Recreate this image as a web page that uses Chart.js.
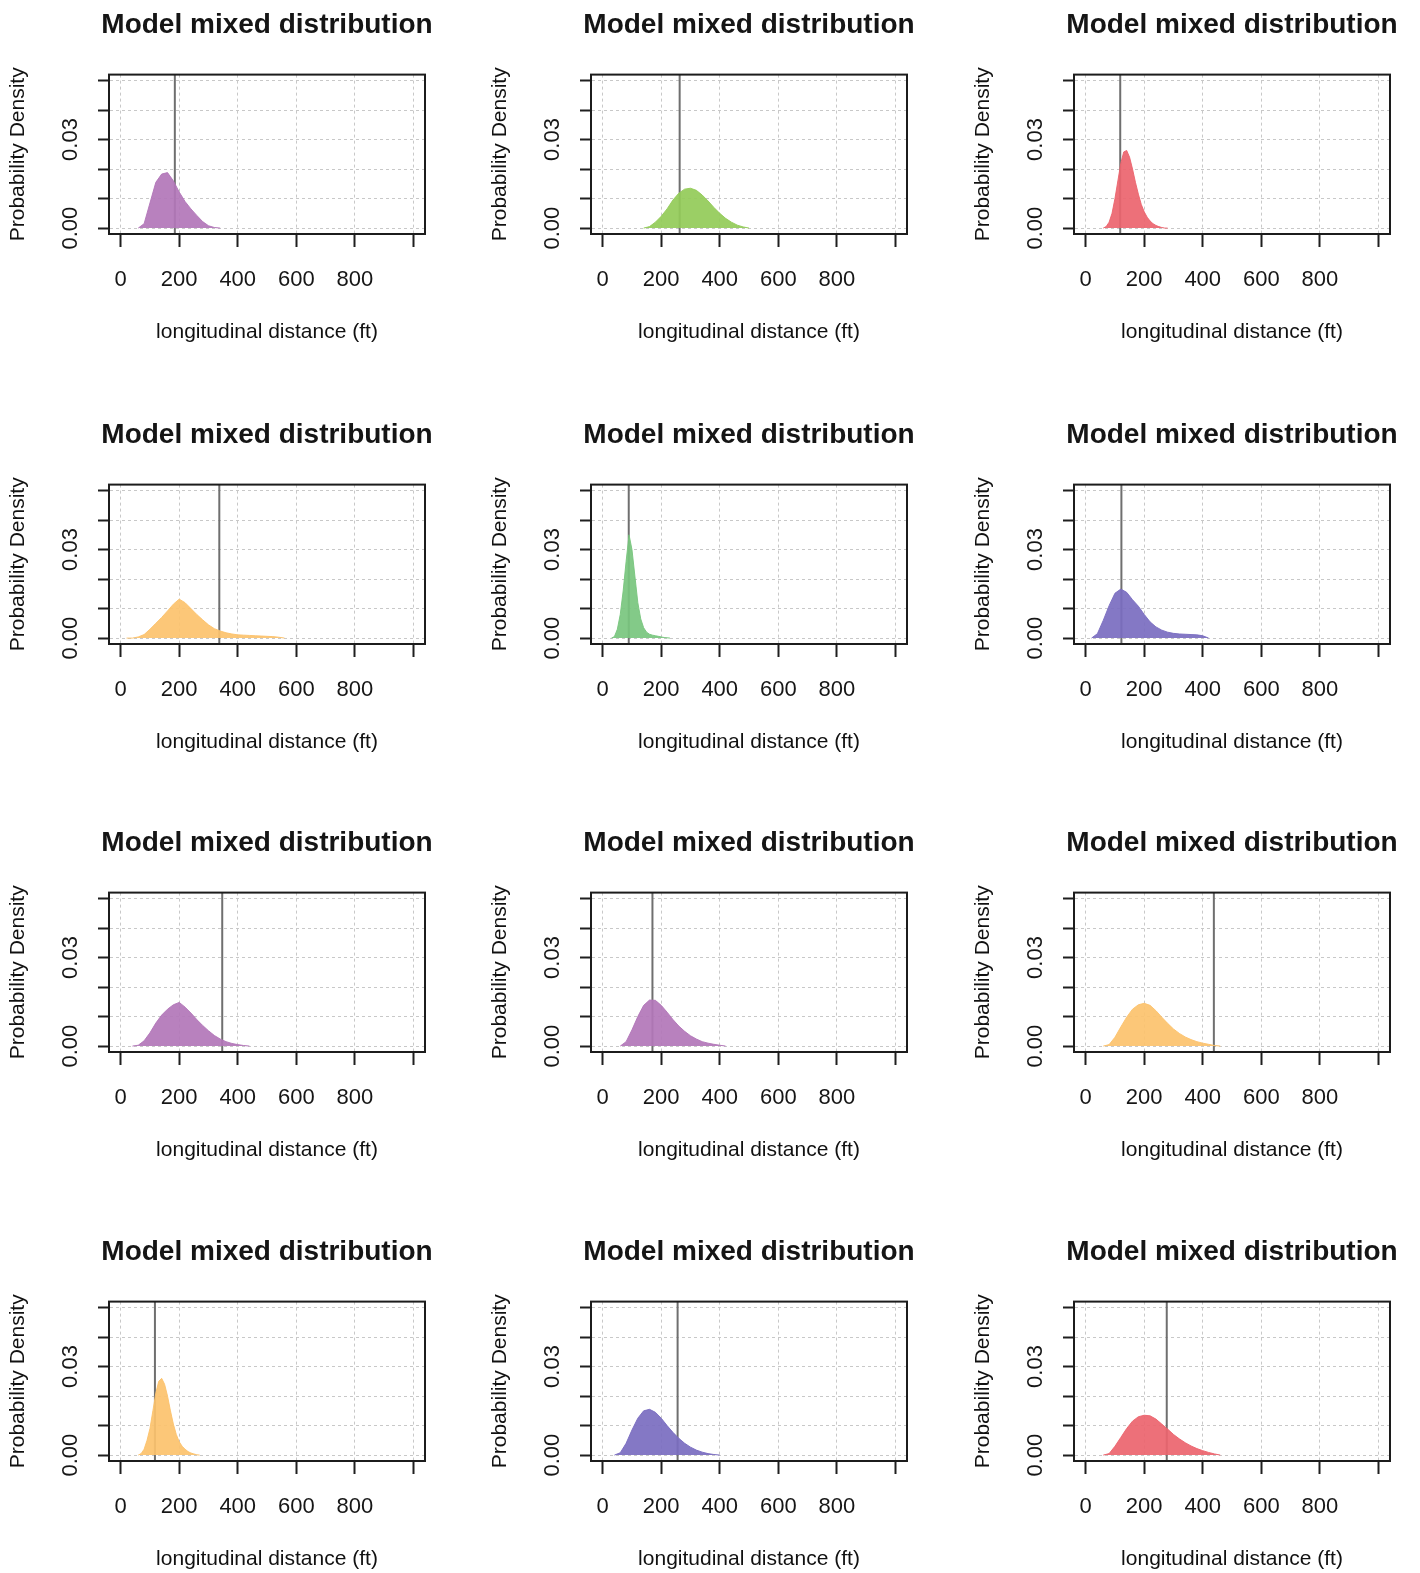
<!DOCTYPE html>
<html>
<head>
<meta charset="utf-8">
<title>Model mixed distribution</title>
<script src="https://cdn.jsdelivr.net/npm/chart.js@4.4.1/dist/chart.umd.min.js"></script>
<style>
  html, body { margin: 0; padding: 0; background: #ffffff; width: 1420px; height: 1573px; overflow: hidden; }
  canvas.panel { position: absolute; }
</style>
</head>
<body>
<script>
// Axis ticks and their printed labels
const xTicks = [0, 200, 400, 600, 800, 1000];
const xTickLabels = ['0', '200', '400', '600', '800', ''];
const yTicks = [0, 0.01, 0.02, 0.03, 0.04, 0.05];
const yTickLabels = ['0.00', '', '', '0.03', '', ''];

// Fill colour of each panel's density, row by row
const panelColors = [
  'rgba(178,118,184,0.92)', 'rgba(146,203,88,0.92)', 'rgba(236,100,110,0.92)',
  'rgba(252,194,108,0.92)', 'rgba(120,198,126,0.92)', 'rgba(122,108,192,0.92)',
  'rgba(178,118,184,0.92)', 'rgba(178,118,184,0.92)', 'rgba(252,194,108,0.92)',
  'rgba(252,194,108,0.92)', 'rgba(122,108,192,0.92)', 'rgba(236,100,110,0.92)'
];

// Vertical reference line of each panel (ft)
const markerFt = [185, 263, 118, 337, 89, 122, 347, 170, 438, 117, 256, 277];

// Density curves: longitudinal distance (ft) and probability density
const dist1 = [60, 80, 100, 120, 140, 160, 180, 200, 220, 240, 260, 280, 300, 320, 340];
const dens1 = [0, 0.0015, 0.0085, 0.0155, 0.0183, 0.0188, 0.0160, 0.0122, 0.0090, 0.0065, 0.0043, 0.0022, 0.0008, 0.0002, 0];

const dist2 = [140, 160, 180, 200, 220, 240, 260, 280, 300, 320, 340, 360, 380, 400, 420, 440, 460, 480, 500];
const dens2 = [0, 0.0005, 0.0020, 0.0040, 0.0065, 0.0095, 0.0118, 0.0132, 0.0135, 0.0128, 0.0112, 0.0092, 0.0070, 0.0050, 0.0033, 0.0020, 0.0010, 0.0004, 0];

const dist3 = [60, 70, 80, 90, 100, 110, 120, 130, 140, 150, 160, 170, 180, 190, 200, 210, 220, 230, 240, 250, 260, 270, 280];
const dens3 = [0, 0.0005, 0.0020, 0.0050, 0.0100, 0.0160, 0.0220, 0.0258, 0.0263, 0.0240, 0.0200, 0.0155, 0.0115, 0.0080, 0.0055, 0.0037, 0.0024, 0.0015, 0.0009, 0.0005, 0.0002, 0, 0];

const dist4 = [20, 40, 60, 80, 100, 120, 140, 160, 180, 200, 220, 240, 260, 280, 300, 320, 340, 360, 380, 400, 420, 440, 460, 480, 500, 520, 540, 560];
const dens4 = [0, 0, 0.0004, 0.0012, 0.0030, 0.0050, 0.0070, 0.0092, 0.0115, 0.0132, 0.0120, 0.0100, 0.0080, 0.0062, 0.0045, 0.0032, 0.0024, 0.0018, 0.0014, 0.0011, 0.0010, 0.0009, 0.0008, 0.0007, 0.0006, 0.0005, 0.0003, 0];

const dist5 = [30, 40, 50, 60, 70, 80, 90, 100, 110, 120, 130, 140, 150, 160, 170, 180, 190, 200, 210, 220, 230];
const dens5 = [0, 0.0005, 0.0030, 0.0080, 0.0160, 0.0260, 0.0350, 0.0300, 0.0210, 0.0120, 0.0065, 0.0035, 0.0020, 0.0013, 0.0010, 0.0008, 0.0006, 0.0004, 0.0002, 0.0001, 0];

const dist6 = [20, 40, 60, 80, 100, 120, 140, 160, 180, 200, 220, 240, 260, 280, 300, 320, 340, 360, 380, 400, 420];
const dens6 = [0, 0.0015, 0.0060, 0.0110, 0.0152, 0.0166, 0.0155, 0.0130, 0.0108, 0.0080, 0.0055, 0.0038, 0.0027, 0.0020, 0.0016, 0.0014, 0.0013, 0.0012, 0.0011, 0.0008, 0];

const dist7 = [40, 60, 80, 100, 120, 140, 160, 180, 200, 220, 240, 260, 280, 300, 320, 340, 360, 380, 400, 420, 440];
const dens7 = [0, 0.0003, 0.0018, 0.0045, 0.0078, 0.0105, 0.0125, 0.0140, 0.0148, 0.0132, 0.0112, 0.0090, 0.0070, 0.0052, 0.0036, 0.0024, 0.0015, 0.0009, 0.0005, 0.0002, 0];

const dist8 = [60, 80, 100, 120, 140, 160, 180, 200, 220, 240, 260, 280, 300, 320, 340, 360, 380, 400, 420];
const dens8 = [0, 0.0015, 0.0055, 0.0100, 0.0138, 0.0156, 0.0155, 0.0138, 0.0115, 0.0090, 0.0068, 0.0050, 0.0035, 0.0024, 0.0015, 0.0010, 0.0006, 0.0003, 0];

const dist9 = [60, 80, 100, 120, 140, 160, 180, 200, 220, 240, 260, 280, 300, 320, 340, 360, 380, 400, 420, 440, 460];
const dens9 = [0, 0.0005, 0.0030, 0.0065, 0.0098, 0.0125, 0.0140, 0.0145, 0.0138, 0.0120, 0.0098, 0.0077, 0.0058, 0.0043, 0.0031, 0.0022, 0.0015, 0.0010, 0.0006, 0.0002, 0];

const dist10 = [60, 70, 80, 90, 100, 110, 120, 130, 140, 150, 160, 170, 180, 190, 200, 210, 220, 230, 240, 250, 260, 270];
const dens10 = [0, 0.0005, 0.0020, 0.0050, 0.0090, 0.0150, 0.0210, 0.0250, 0.0260, 0.0240, 0.0200, 0.0150, 0.0105, 0.0070, 0.0045, 0.0030, 0.0020, 0.0012, 0.0007, 0.0004, 0.0001, 0];

const dist11 = [40, 60, 80, 100, 120, 140, 160, 180, 200, 220, 240, 260, 280, 300, 320, 340, 360, 380, 400];
const dens11 = [0, 0.0008, 0.0040, 0.0085, 0.0125, 0.0150, 0.0155, 0.0145, 0.0125, 0.0100, 0.0077, 0.0057, 0.0040, 0.0027, 0.0017, 0.0010, 0.0005, 0.0002, 0];

const dist12 = [60, 80, 100, 120, 140, 160, 180, 200, 220, 240, 260, 280, 300, 320, 340, 360, 380, 400, 420, 440, 460];
const dens12 = [0, 0.0005, 0.0030, 0.0060, 0.0090, 0.0115, 0.0130, 0.0135, 0.0133, 0.0122, 0.0105, 0.0088, 0.0070, 0.0055, 0.0042, 0.0031, 0.0022, 0.0015, 0.0009, 0.0004, 0];

const panelDist = [dist1, dist2, dist3, dist4, dist5, dist6, dist7, dist8, dist9, dist10, dist11, dist12];
const panelDens = [dens1, dens2, dens3, dens4, dens5, dens6, dens7, dens8, dens9, dens10, dens11, dens12];

// Page layout of the 4 x 3 grid of panels
const colLeft = [0, 482, 965];
const rowTop = [0, 410, 818, 1227];
const CANVAS_W = 534, CANVAS_H = 350;
const FONT = "'Liberation Sans', Arial, Helvetica, sans-serif";

// Box around the plotting region, drawn over the data like a base-graphics box()
const framePlugin = {
  id: 'frame',
  afterDatasetsDraw(chart) {
    const { ctx, chartArea: a } = chart;
    ctx.save();
    ctx.strokeStyle = '#1c1c1c';
    ctx.lineWidth = 2;
    ctx.strokeRect(a.left, a.top, a.right - a.left, a.bottom - a.top);
    ctx.restore();
  }
};

const gridColor = '#c8c8c8';
const inkColor = '#1f1f1f';
const labelColor = '#161616';

function makePanel(i) {
  const col = i % 3, row = Math.floor(i / 3);
  const canvas = document.createElement('canvas');
  canvas.className = 'panel';
  canvas.width = CANVAS_W;
  canvas.height = CANVAS_H;
  canvas.style.left = colLeft[col] + 'px';
  canvas.style.top = rowTop[row] + 'px';
  document.body.appendChild(canvas);

  const dist = panelDist[i], dens = panelDens[i];
  const m = markerFt[i];

  new Chart(canvas, {
    type: 'line',
    data: {
      datasets: [
        {
          data: dist.map((x, k) => ({ x: x, y: dens[k] })),
          backgroundColor: panelColors[i],
          borderColor: panelColors[i],
          borderWidth: 1,
          pointRadius: 0,
          fill: 'origin',
          tension: 0
        },
        {
          data: [{ x: m, y: -0.002 }, { x: m, y: 0.052 }],
          borderColor: '#6f6f6f',
          borderWidth: 2,
          pointRadius: 0,
          fill: false
        }
      ]
    },
    options: {
      responsive: false,
      animation: false,
      devicePixelRatio: 1,
      events: [],
      layout: { padding: 0 },
      plugins: {
        legend: { display: false },
        tooltip: { enabled: false },
        title: {
          display: true,
          text: 'Model mixed distribution',
          color: '#151515',
          font: { family: FONT, size: 28, weight: 'bold' },
          padding: { top: 8, bottom: 33 }
        }
      },
      scales: {
        x: {
          type: 'linear',
          min: -40,
          max: 1040,
          afterBuildTicks: s => { s.ticks = xTicks.map(v => ({ value: v })); },
          afterFit: s => { s.height = 116; },
          grid: { color: gridColor, lineWidth: 1, drawTicks: true, tickLength: 13, tickWidth: 2, tickColor: inkColor },
          border: { display: true, color: inkColor, width: 2, dash: [3, 3] },
          ticks: {
            autoSkip: false, maxRotation: 0, minRotation: 0, padding: 20,
            color: labelColor, font: { family: FONT, size: 22 },
            callback: (v, idx) => xTickLabels[idx]
          },
          title: {
            display: true, text: 'longitudinal distance (ft)', color: '#111111',
            font: { family: FONT, size: 21 }, padding: { top: 0, bottom: 5 }
          }
        },
        y: {
          type: 'linear',
          position: 'left',
          min: -0.002,
          max: 0.052,
          afterBuildTicks: s => { s.ticks = yTicks.map(v => ({ value: v })); },
          afterFit: s => { s.width = 109; },
          grid: { color: gridColor, lineWidth: 1, drawTicks: true, tickLength: 11, tickWidth: 2, tickColor: inkColor },
          border: { display: true, color: inkColor, width: 2, dash: [3, 3] },
          ticks: {
            autoSkip: false, minRotation: 90, maxRotation: 90, crossAlign: 'center', padding: 6,
            color: labelColor, font: { family: FONT, size: 22 },
            callback: (v, idx) => yTickLabels[idx]
          },
          title: {
            display: true, text: 'Probability Density', color: '#111111',
            font: { family: FONT, size: 21 }, padding: { top: 6, bottom: 0 }
          }
        },
        yRight: {
          type: 'linear',
          position: 'right',
          min: -0.002,
          max: 0.052,
          afterFit: s => { s.width = 109; },
          grid: { display: false, drawOnChartArea: false, drawTicks: false },
          border: { display: false },
          ticks: { display: false }
        }
      }
    },
    plugins: [framePlugin]
  });
}

for (let i = 0; i < 12; i++) makePanel(i);
</script>
</body>
</html>
